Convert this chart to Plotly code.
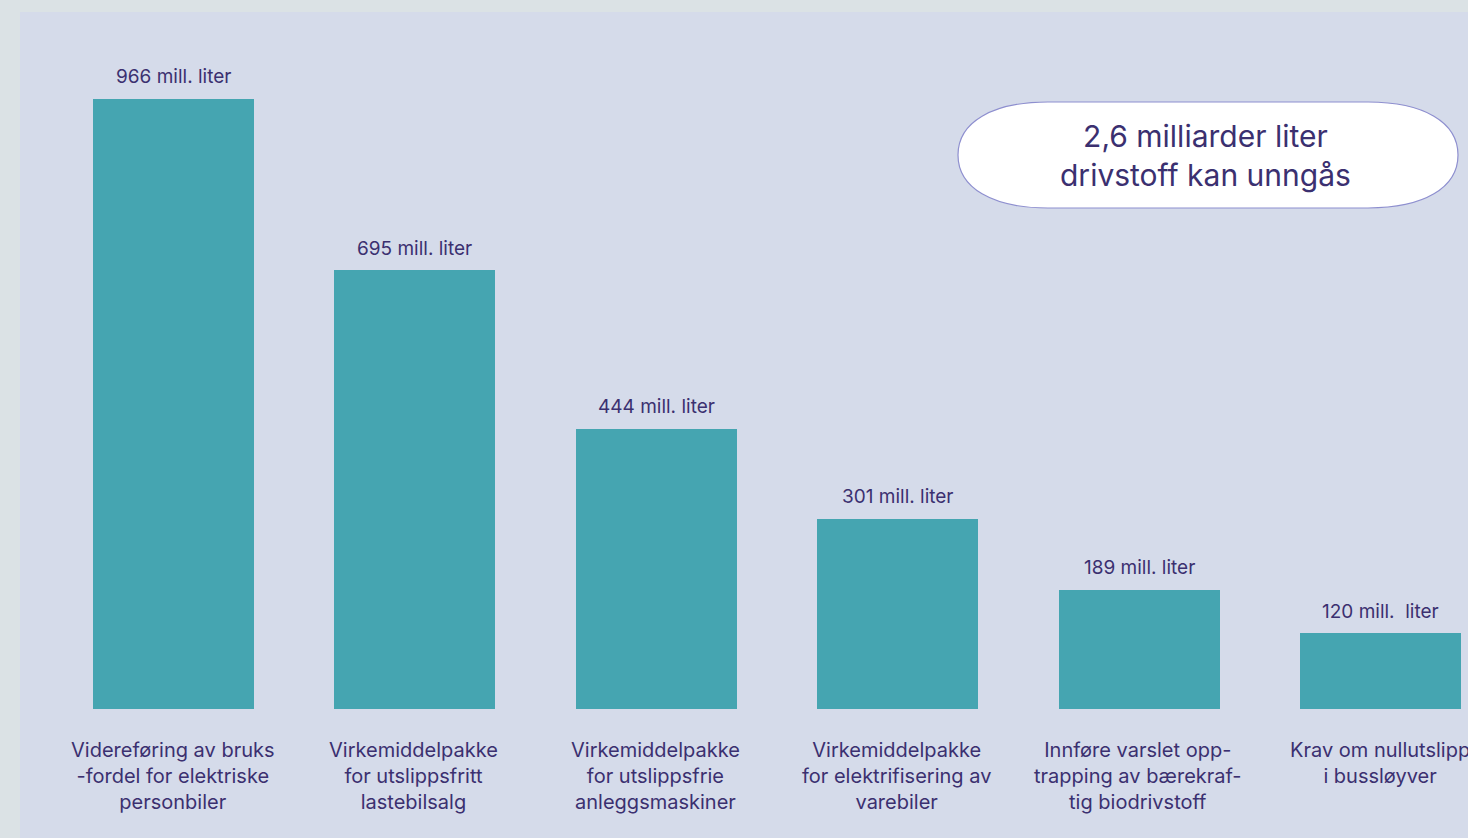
import plotly.graph_objects as go

# Tiltak og hvor mye drivstoff hvert av dem kan spare (millioner liter)
kategorier = [
    "Videreføring av bruks<br>-fordel for elektriske<br>personbiler",
    "Virkemiddelpakke<br>for utslippsfritt<br>lastebilsalg",
    "Virkemiddelpakke<br>for utslippsfrie<br>anleggsmaskiner",
    "Virkemiddelpakke<br>for elektrifisering av<br>varebiler",
    "Innføre varslet opp-<br>trapping av bærekraf-<br>tig biodrivstoff",
    "Krav om nullutslipp<br>i bussløyver",
]
verdier = [966, 695, 444, 301, 189, 120]
etiketter = ["966 mill. liter", "695 mill. liter", "444 mill. liter",
             "301 mill. liter", "189 mill. liter", "120 mill.&nbsp; liter"]
oppsummering = "2,6 milliarder liter<br>drivstoff kan unngås"

W, H = 1468, 838
ML, MR, MT, MB = 20, 0, 12, 129
TEKST = "#3b3070"
STOLPE = "#45a5b1"
PANEL = "#d5dbea"
BAKGRUNN = "#dbe2e5"
FONT = "Inter, Liberation Sans, sans-serif"

plot_w = W - ML - MR
plot_h = H - MT - MB
steg = 241.4            # piksler mellom stolpene
x0 = -(173.5 - ML) / steg
x1 = x0 + plot_w / steg
y_top = plot_h / 0.6315

xs = list(range(len(verdier)))

fig = go.Figure(go.Bar(
    x=xs, y=verdier, width=161 / steg,
    marker=dict(color=STOLPE, line=dict(width=0)),
    hoverinfo="skip",
))

# bakgrunnspanelet som fortsetter under aksen
fig.add_shape(type="rect", xref="paper", yref="paper",
              x0=0, x1=1, y0=-MB / plot_h, y1=1,
              fillcolor=PANEL, line=dict(width=0), layer="below")

for x, v, t in zip(xs, verdier, etiketter):
    fig.add_annotation(x=x, y=v, text=t, showarrow=False, yanchor="middle",
                       xanchor="center", yshift=22,
                       font=dict(size=19, color=TEKST, family=FONT))

for x, k in zip(xs, kategorier):
    fig.add_annotation(x=x, y=-(736 - (H - MB)) / plot_h, yref="paper", text=k,
                       showarrow=False, yanchor="top", xanchor="center",
                       align="center", xshift=-1,
                       font=dict(size=20, color=TEKST, family=FONT))

# avrundet boks med oppsummeringen
cx = (1208 - ML) / plot_w
cy = (H - MB - 155) / plot_h
hw, hh, rx = 250, 53, 90
k = 0.62
sx = hw - rx
path = (
    f"M {-sx},{hh} L {sx},{hh} "
    f"C {sx + k*rx},{hh} {hw},{k*hh} {hw},0 "
    f"C {hw},{-k*hh} {sx + k*rx},{-hh} {sx},{-hh} "
    f"L {-sx},{-hh} "
    f"C {-sx - k*rx},{-hh} {-hw},{-k*hh} {-hw},0 "
    f"C {-hw},{k*hh} {-sx - k*rx},{hh} {-sx},{hh} Z"
)
fig.add_shape(type="path", xref="paper", yref="paper",
              xsizemode="pixel", ysizemode="pixel",
              xanchor=cx, yanchor=cy, path=path,
              fillcolor="white", line=dict(color="#8e8fcf", width=1.2))
fig.add_annotation(x=cx - 3 / plot_w, y=cy, xref="paper", yref="paper",
                   text=oppsummering, showarrow=False,
                   xanchor="center", yanchor="middle", align="center",
                   font=dict(size=30, color=TEKST, family=FONT))

fig.update_xaxes(range=[x0, x1], visible=False, fixedrange=True)
fig.update_yaxes(range=[0, y_top], visible=False, fixedrange=True)
fig.update_layout(
    width=W, height=H,
    margin=dict(l=ML, r=MR, t=MT, b=MB),
    paper_bgcolor=BAKGRUNN, plot_bgcolor="rgba(0,0,0,0)",
    showlegend=False, bargap=0,
)
fig.write_html("out.html", config={"displayModeBar": False})
